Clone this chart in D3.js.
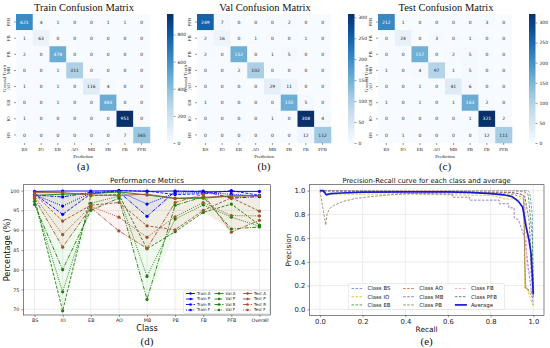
<!DOCTYPE html>
<html>
<head>
<meta charset="utf-8">
<script src="https://cdn.jsdelivr.net/npm/d3@7"></script>
<style>
  body { margin: 0; background: #fff; }
  svg { display: block; }
</style>
</head>
<body>
<svg width="550" height="348"></svg>
<script>
// confusion matrices (rows in data order, y labels drawn as in the figure)
const cmClasses = ["BS", "IO", "EB", "AO", "MB", "PB", "FB", "PFB"];
const rowLabels = ["PFB", "FB", "PB", "MB", "AO", "EB", "IO", "BS"];

const trainCM = [
  [621, 4, 1, 0, 0, 1, 1, 0],
  [1, 63, 0, 0, 0, 0, 0, 0],
  [2, 0, 478, 0, 0, 0, 0, 0],
  [0, 0, 1, 311, 0, 0, 0, 0],
  [1, 0, 1, 0, 116, 4, 0, 0],
  [0, 0, 1, 0, 0, 483, 0, 0],
  [1, 0, 0, 0, 0, 0, 951, 0],
  [0, 0, 0, 0, 0, 0, 7, 365]
];
const valCM = [
  [249, 7, 0, 0, 0, 2, 0, 0],
  [2, 16, 0, 1, 0, 0, 1, 0],
  [2, 0, 152, 0, 1, 5, 0, 0],
  [0, 0, 2, 102, 0, 0, 0, 0],
  [0, 0, 0, 0, 29, 11, 0, 0],
  [1, 0, 0, 0, 0, 155, 5, 0],
  [0, 0, 0, 0, 1, 0, 308, 4],
  [0, 0, 0, 0, 0, 0, 12, 112]
];
const testCM = [
  [212, 1, 0, 0, 0, 0, 3, 0],
  [0, 24, 0, 3, 0, 1, 0, 0],
  [0, 0, 157, 0, 2, 5, 0, 0],
  [1, 0, 4, 97, 1, 5, 0, 0],
  [0, 0, 1, 0, 41, 6, 0, 0],
  [1, 0, 1, 0, 1, 163, 2, 0],
  [0, 0, 0, 0, 0, 1, 321, 2],
  [0, 1, 0, 0, 0, 0, 12, 111]
];
const trainCbTicks = [0, 200, 400, 600, 800];
const valCbTicks = [0, 50, 100, 150, 200, 250, 300];
const testCbTicks = [0, 50, 100, 150, 200, 250, 300];

// performance metrics (%)
const metricClasses = ["BS", "IO", "EB", "AO", "MB", "PB", "FB", "PFB", "Overall"];
const trainA = [99.8, 99.9, 99.9, 100.0, 99.8, 99.9, 99.7, 99.8, 99.8];
const trainP = [99.2, 94.0, 99.2, 100.0, 99.9, 99.0, 99.2, 100.0, 98.8];
const trainR = [98.9, 98.4, 99.6, 99.7, 93.5, 99.8, 99.9, 98.1, 98.5];
const trainF = [99.0, 96.1, 99.4, 99.8, 96.6, 99.4, 99.5, 99.1, 98.6];
const valA = [98.8, 99.1, 99.2, 99.7, 98.9, 98.0, 98.1, 98.6, 98.8];
const valP = [98.0, 69.6, 98.7, 99.0, 85.3, 89.6, 94.5, 96.6, 91.3];
const valR = [96.5, 80.0, 95.0, 98.1, 72.5, 96.3, 98.4, 90.3, 90.8];
const valF = [97.3, 74.4, 96.8, 98.6, 78.3, 92.8, 96.4, 93.3, 91.0];
const testA = [99.5, 99.5, 98.9, 98.8, 99.1, 98.1, 98.3, 98.7, 98.7];
const testP = [99.1, 92.3, 96.3, 97.0, 91.1, 90.1, 95.0, 98.2, 94.8];
const testR = [98.1, 85.7, 95.7, 89.8, 85.4, 97.0, 99.1, 89.5, 92.5];
const testF = [98.6, 88.9, 96.0, 93.3, 88.2, 93.4, 97.0, 93.7, 93.6];
const metricTicks = [70, 75, 80, 85, 90, 95, 100];

// precision-recall curves: [recall, precision]
const prBS = [[0, 1], [0.5, 1], [0.975, 1], [0.98, 0.99], [0.985, 0.96], [0.99, 0.88], [0.995, 0.8], [0.997, 0.5], [1, 0.18]];
const prIO = [[0, 1], [0.04, 0.97], [0.4, 0.97], [0.8, 0.96], [0.85, 0.94], [0.86, 0.93], [0.955, 0.93], [0.96, 0.18], [0.968, 0.18], [1, 0.024]];
const prEB = [[0, 1], [0.9, 1], [0.96, 0.99], [0.975, 0.97], [0.98, 0.9], [0.985, 0.8], [0.99, 0.7], [0.995, 0.6], [1, 0.14]];
const prAO = [[0, 1], [0.5, 0.99], [0.88, 0.985], [0.93, 0.975], [0.955, 0.96], [0.96, 0.5], [0.962, 0.18], [0.97, 0.18], [1, 0.09]];
const prMB = [[0, 1], [0.3, 0.985], [0.44, 0.975], [0.62, 0.97], [0.62, 0.945], [0.7, 0.945], [0.7, 0.92], [0.84, 0.92], [0.84, 0.89], [0.885, 0.89], [0.885, 0.855], [0.91, 0.855], [0.91, 0.77], [0.93, 0.755], [0.96, 0.6], [0.98, 0.3], [1, 0.04]];
const prPB = [[0, 1], [0.027, 0.71], [0.033, 0.8], [0.045, 0.85], [0.07, 0.88], [0.11, 0.91], [0.17, 0.935], [0.24, 0.95], [0.33, 0.965], [0.42, 0.975], [0.6, 0.98], [0.8, 0.98], [0.9, 0.97], [0.94, 0.95], [0.955, 0.93], [0.96, 0.4], [0.965, 0.18], [1, 0.14]];
const prFB = [[0, 1], [0.9, 1], [0.95, 0.995], [0.96, 0.98], [0.965, 0.7], [0.97, 0.35], [1, 0.27]];
const prPFB = [[0, 1], [0.6, 0.99], [0.9, 0.985], [0.94, 0.97], [0.96, 0.95], [0.97, 0.85], [0.98, 0.75], [0.985, 0.6], [0.99, 0.3], [1, 0.105]];
const prAvg = [[0, 1], [0.015, 1], [0.03, 0.965], [0.05, 0.975], [0.1, 0.98], [0.2, 0.987], [0.4, 0.99], [0.6, 0.99], [0.7, 0.985], [0.8, 0.975], [0.86, 0.965], [0.9, 0.95], [0.93, 0.91], [0.95, 0.86], [0.966, 0.7], [0.98, 0.58], [0.989, 0.476], [0.995, 0.3], [1, 0.126]];
const prTicks = [0, 0.2, 0.4, 0.6, 0.8, 1.0];

const svg = d3.select("svg");
const SERIF = "'Liberation Serif', 'DejaVu Serif', serif";
const SANS = "'DejaVu Sans', sans-serif";

function luminance(c) {
  const { r, g, b } = d3.rgb(c);
  const f = v => { v /= 255; return v <= 0.03928 ? v / 12.92 : Math.pow((v + 0.055) / 1.055, 2.4); };
  return 0.2126 * f(r) + 0.7152 * f(g) + 0.0722 * f(b);
}

function drawMatrix(cm, cbTicks, title, tag, left, id) {
  const top = 14, bottom = 143, width = 134;
  const g = svg.append("g");
  const x = d3.scaleBand().domain(cmClasses).range([left, left + width]);
  const y = d3.scaleBand().domain(rowLabels).range([top, bottom]);
  const vmax = d3.max(cm.flat());
  const color = d3.scaleSequential(d3.interpolateBlues).domain([0, vmax]);

  const cells = [];
  cm.forEach((row, i) => row.forEach((v, j) => cells.push({ r: rowLabels[i], c: cmClasses[j], v })));

  g.selectAll("rect.cell").data(cells).join("rect")
    .attr("class", "cell")
    .attr("x", d => x(d.c))
    .attr("y", d => y(d.r))
    .attr("width", x.bandwidth() + 0.3)
    .attr("height", y.bandwidth() + 0.3)
    .attr("fill", d => color(d.v));

  g.selectAll("text.val").data(cells).join("text")
    .attr("class", "val")
    .attr("x", d => x(d.c) + x.bandwidth() / 2)
    .attr("y", d => y(d.r) + y.bandwidth() / 2)
    .attr("dy", "0.35em")
    .attr("text-anchor", "middle")
    .style("font-family", SANS)
    .style("font-size", "4.5px")
    .attr("fill", d => luminance(color(d.v)) > 0.408 ? "#262626" : "#ffffff")
    .text(d => d.v);

  // x axis
  const xa = g.append("g")
    .attr("transform", `translate(0,${bottom})`)
    .call(d3.axisBottom(x).tickSize(2).tickPadding(3));
  xa.select(".domain").remove();
  xa.selectAll("line").attr("stroke", "#333").attr("stroke-width", 0.5);
  xa.selectAll("text").style("font-family", SERIF).style("font-size", "4.8px").attr("fill", "#222");

  // y axis, rotated labels
  const ya = g.append("g")
    .attr("transform", `translate(${left},0)`)
    .call(d3.axisLeft(y).tickSize(2).tickPadding(2));
  ya.select(".domain").remove();
  ya.selectAll("line").attr("stroke", "#333").attr("stroke-width", 0.5);
  ya.selectAll("text")
    .attr("transform", "rotate(-90)")
    .attr("x", 0).attr("y", -6)
    .attr("dy", 0)
    .attr("text-anchor", "middle")
    .style("font-family", SERIF).style("font-size", "4.8px").attr("fill", "#222");

  g.append("text")
    .attr("transform", `translate(${left - 10},${(top + bottom) / 2}) rotate(-90)`)
    .attr("text-anchor", "middle")
    .style("font-family", SERIF).style("font-size", "5px").attr("fill", "#222")
    .text("Ground Truth");

  g.append("text")
    .attr("x", left + width / 2).attr("y", 157.5)
    .attr("text-anchor", "middle")
    .style("font-family", SERIF).style("font-size", "4.8px").attr("fill", "#222")
    .text("Prediction");

  g.append("text")
    .attr("x", left + width / 2 + 1).attr("y", 11)
    .attr("text-anchor", "middle")
    .style("font-family", SERIF).style("font-size", "10.5px").attr("fill", "#111")
    .text(title);

  g.append("text")
    .attr("x", left + width / 2).attr("y", 169.5)
    .attr("text-anchor", "middle")
    .style("font-family", SERIF).style("font-size", "11px").attr("fill", "#111")
    .text(tag);

  // colorbar
  const cbx = left + width + 17, cbw = 6.5;
  const grad = svg.append("defs").append("linearGradient")
    .attr("id", id).attr("x1", 0).attr("y1", 1).attr("x2", 0).attr("y2", 0);
  d3.range(0, 1.0001, 0.05).forEach(t => {
    grad.append("stop").attr("offset", t).attr("stop-color", d3.interpolateBlues(t));
  });
  g.append("rect")
    .attr("x", cbx).attr("y", top).attr("width", cbw).attr("height", bottom - top)
    .attr("fill", `url(#${id})`);
  const cy = d3.scaleLinear().domain([0, vmax]).range([bottom, top]);
  const ca = g.append("g")
    .attr("transform", `translate(${cbx + cbw},0)`)
    .call(d3.axisRight(cy).tickValues(cbTicks).tickSize(2).tickPadding(2));
  ca.select(".domain").remove();
  ca.selectAll("line").attr("stroke", "#333").attr("stroke-width", 0.5);
  ca.selectAll("text").style("font-family", SANS).style("font-size", "4.5px").attr("fill", "#222");
}

drawMatrix(trainCM, trainCbTicks, "Train Confusion Matrix", "(a)", 16, "gradA");
drawMatrix(valCM, valCbTicks, "Val Confusion Matrix", "(b)", 197, "gradB");
drawMatrix(testCM, testCbTicks, "Test Confusion Matrix", "(c)", 378, "gradC");

// ---------- (d) performance metrics ----------
const dL = 23.3, dR = 270.7, dT = 184.7, dB = 315;
const xd = d3.scalePoint().domain(metricClasses).range([dL, dR]).padding(0.4);
const yd = d3.scaleLinear().domain([68.55, 101.5]).range([dB, dT]);
const gd = svg.append("g");

// grid
gd.selectAll("line.gx").data(metricClasses).join("line")
  .attr("x1", d => xd(d)).attr("x2", d => xd(d)).attr("y1", dT).attr("y2", dB)
  .attr("stroke", "#d9d9d9").attr("stroke-width", 0.5);
gd.selectAll("line.gy").data(metricTicks).join("line")
  .attr("x1", dL).attr("x2", dR).attr("y1", d => yd(d)).attr("y2", d => yd(d))
  .attr("stroke", "#d9d9d9").attr("stroke-width", 0.5);

const groups = [
  { color: "#0000ff", fill: "#6f8cff", opacity: 0.10, series: [["Train A", trainA], ["Train P", trainP], ["Train R", trainR], ["Train F", trainF]] },
  { color: "#1e7d0a", fill: "#5fd35f", opacity: 0.10, series: [["Val A", valA], ["Val P", valP], ["Val R", valR], ["Val F", valF]] },
  { color: "#a0522d", fill: "#ff7f7f", opacity: 0.10, series: [["Test A", testA], ["Test P", testP], ["Test R", testR], ["Test F", testF]] }
];
const dashes = [null, "3,1.5", "4,1.3,1,1.3", "1,1.2"];

// shaded band between min and max of each group
groups.forEach(grp => {
  const band = metricClasses.map((c, i) => ({
    c,
    lo: d3.min(grp.series, s => s[1][i]),
    hi: d3.max(grp.series, s => s[1][i])
  }));
  gd.append("path").datum(band)
    .attr("d", d3.area().x(d => xd(d.c)).y0(d => yd(d.lo)).y1(d => yd(d.hi)))
    .attr("fill", grp.fill).attr("opacity", grp.opacity);
});

const lineD = d3.line().x((d, i) => xd(metricClasses[i])).y(d => yd(d));
groups.forEach(grp => {
  grp.series.forEach((s, k) => {
    gd.append("path").datum(s[1])
      .attr("d", lineD)
      .attr("fill", "none")
      .attr("stroke", grp.color)
      .attr("stroke-width", 0.9)
      .attr("stroke-dasharray", dashes[k]);
    gd.selectAll(null).data(s[1]).join("circle")
      .attr("cx", (d, i) => xd(metricClasses[i]))
      .attr("cy", d => yd(d))
      .attr("r", 1.6)
      .attr("fill", grp.color);
  });
});

// axes
gd.append("rect").attr("x", dL).attr("y", dT).attr("width", dR - dL).attr("height", dB - dT)
  .attr("fill", "none").attr("stroke", "#333").attr("stroke-width", 0.6);
const dxa = gd.append("g").attr("transform", `translate(0,${dB})`)
  .call(d3.axisBottom(xd).tickSize(2).tickPadding(2));
dxa.select(".domain").remove();
dxa.selectAll("line").attr("stroke", "#333").attr("stroke-width", 0.5);
dxa.selectAll("text").style("font-family", SANS).style("font-size", "4.8px").attr("fill", "#222");
const dya = gd.append("g").attr("transform", `translate(${dL},0)`)
  .call(d3.axisLeft(yd).tickValues(metricTicks).tickSize(2).tickPadding(2));
dya.select(".domain").remove();
dya.selectAll("line").attr("stroke", "#333").attr("stroke-width", 0.5);
dya.selectAll("text").style("font-family", SANS).style("font-size", "4.8px").attr("fill", "#222");

gd.append("text").attr("x", (dL + dR) / 2).attr("y", 182.5).attr("text-anchor", "middle")
  .style("font-family", SANS).style("font-size", "7.2px").attr("fill", "#111").text("Performance Metrics");
gd.append("text").attr("x", (dL + dR) / 2).attr("y", 331).attr("text-anchor", "middle")
  .style("font-family", SANS).style("font-size", "8.2px").attr("fill", "#111").text("Class");
gd.append("text").attr("transform", `translate(10,${(dT + dB) / 2}) rotate(-90)`).attr("text-anchor", "middle")
  .style("font-family", SANS).style("font-size", "8.2px").attr("fill", "#111").text("Percentage (%)");
gd.append("text").attr("x", (dL + dR) / 2).attr("y", 344.5).attr("text-anchor", "middle")
  .style("font-family", SERIF).style("font-size", "11px").attr("fill", "#111").text("(d)");

// legend (d)
const lgD = gd.append("g");
lgD.append("rect").attr("x", 183.5).attr("y", 290.5).attr("width", 86).attr("height", 23).attr("rx", 1.5)
  .attr("fill", "#fff").attr("fill-opacity", 0.8).attr("stroke", "#ccc").attr("stroke-width", 0.4);
groups.forEach((grp, gi) => {
  grp.series.forEach((s, k) => {
    const lx = 186 + gi * 28.5, ly = 293.5 + k * 5.5;
    lgD.append("line").attr("x1", lx).attr("x2", lx + 9).attr("y1", ly).attr("y2", ly)
      .attr("stroke", grp.color).attr("stroke-width", 0.9).attr("stroke-dasharray", dashes[k]);
    lgD.append("circle").attr("cx", lx + 4.5).attr("cy", ly).attr("r", 1.3).attr("fill", grp.color);
    lgD.append("text").attr("x", lx + 11).attr("y", ly).attr("dy", "0.35em")
      .style("font-family", SANS).style("font-size", "4px").attr("fill", "#222").text(s[0]);
  });
});

// ---------- (e) precision-recall ----------
const eL = 309.3, eR = 544, eT = 184.7, eB = 315.3;
const xe = d3.scaleLinear().domain([-0.05, 1.05]).range([eL, eR]);
const ye = d3.scaleLinear().domain([-0.05, 1.05]).range([eB, eT]);
const ge = svg.append("g");

ge.selectAll("line.gx").data(prTicks).join("line")
  .attr("x1", d => xe(d)).attr("x2", d => xe(d)).attr("y1", eT).attr("y2", eB)
  .attr("stroke", "#d9d9d9").attr("stroke-width", 0.5);
ge.selectAll("line.gy").data(prTicks).join("line")
  .attr("x1", eL).attr("x2", eR).attr("y1", d => ye(d)).attr("y2", d => ye(d))
  .attr("stroke", "#d9d9d9").attr("stroke-width", 0.5);

const prCurves = [
  { name: "Class BS", pts: prBS, color: "#6a8fdc" },
  { name: "Class IO", pts: prIO, color: "#d8c81a" },
  { name: "Class EB", pts: prEB, color: "#3f9f3f" },
  { name: "Class AO", pts: prAO, color: "#c8783a" },
  { name: "Class MB", pts: prMB, color: "#8d74c9" },
  { name: "Class PB", pts: prPB, color: "#9a8670" },
  { name: "Class FB", pts: prFB, color: "#f0a6c4" },
  { name: "Class PFB", pts: prPFB, color: "#707084" },
  { name: "Average", pts: prAvg, color: "#1a1ad2", solid: true }
];
const lineE = d3.line().x(d => xe(d[0])).y(d => ye(d[1]));
prCurves.forEach(c => {
  ge.append("path").datum(c.pts)
    .attr("d", lineE)
    .attr("fill", "none")
    .attr("stroke", c.color)
    .attr("stroke-width", c.solid ? 1.7 : 0.9)
    .attr("stroke-dasharray", c.solid ? null : "2.6,1.4");
});

ge.append("rect").attr("x", eL).attr("y", eT).attr("width", eR - eL).attr("height", eB - eT)
  .attr("fill", "none").attr("stroke", "#333").attr("stroke-width", 0.6);
const exa = ge.append("g").attr("transform", `translate(0,${eB})`)
  .call(d3.axisBottom(xe).tickValues(prTicks).tickFormat(d3.format(".1f")).tickSize(2).tickPadding(2));
exa.select(".domain").remove();
exa.selectAll("line").attr("stroke", "#333").attr("stroke-width", 0.5);
exa.selectAll("text").style("font-family", SANS).style("font-size", "6.8px").attr("fill", "#222");
const eya = ge.append("g").attr("transform", `translate(${eL},0)`)
  .call(d3.axisLeft(ye).tickValues(prTicks).tickFormat(d3.format(".1f")).tickSize(2).tickPadding(2));
eya.select(".domain").remove();
eya.selectAll("line").attr("stroke", "#333").attr("stroke-width", 0.5);
eya.selectAll("text").style("font-family", SANS).style("font-size", "6.8px").attr("fill", "#222");

ge.append("text").attr("x", (eL + eR) / 2).attr("y", 182.5).attr("text-anchor", "middle")
  .style("font-family", SANS).style("font-size", "6.8px").attr("fill", "#111").text("Precision-Recall curve for each class and average");
ge.append("text").attr("x", (eL + eR) / 2).attr("y", 332).attr("text-anchor", "middle")
  .style("font-family", SANS).style("font-size", "7.4px").attr("fill", "#111").text("Recall");
ge.append("text").attr("transform", `translate(290.5,${(eT + eB) / 2}) rotate(-90)`).attr("text-anchor", "middle")
  .style("font-family", SANS).style("font-size", "7.4px").attr("fill", "#111").text("Precision");
ge.append("text").attr("x", (eL + eR) / 2).attr("y", 344.5).attr("text-anchor", "middle")
  .style("font-family", SERIF).style("font-size", "11px").attr("fill", "#111").text("(e)");

// legend (e)
const lgE = ge.append("g");
lgE.append("rect").attr("x", 348.5).attr("y", 283.5).attr("width", 156).attr("height", 26).attr("rx", 1.5)
  .attr("fill", "#fff").attr("fill-opacity", 0.8).attr("stroke", "#ccc").attr("stroke-width", 0.4);
prCurves.forEach((c, i) => {
  const col = Math.floor(i / 3), row = i % 3;
  const lx = 351.5 + col * 51.7, ly = 288.5 + row * 8.2;
  lgE.append("line").attr("x1", lx).attr("x2", lx + 12).attr("y1", ly).attr("y2", ly)
    .attr("stroke", c.color).attr("stroke-width", c.solid ? 1.7 : 0.9)
    .attr("stroke-dasharray", c.solid ? null : "2.6,1.4");
  lgE.append("text").attr("x", lx + 16).attr("y", ly).attr("dy", "0.35em")
    .style("font-family", SANS).style("font-size", "5.4px").attr("fill", "#222").text(c.name);
});
</script>
</body>
</html>
